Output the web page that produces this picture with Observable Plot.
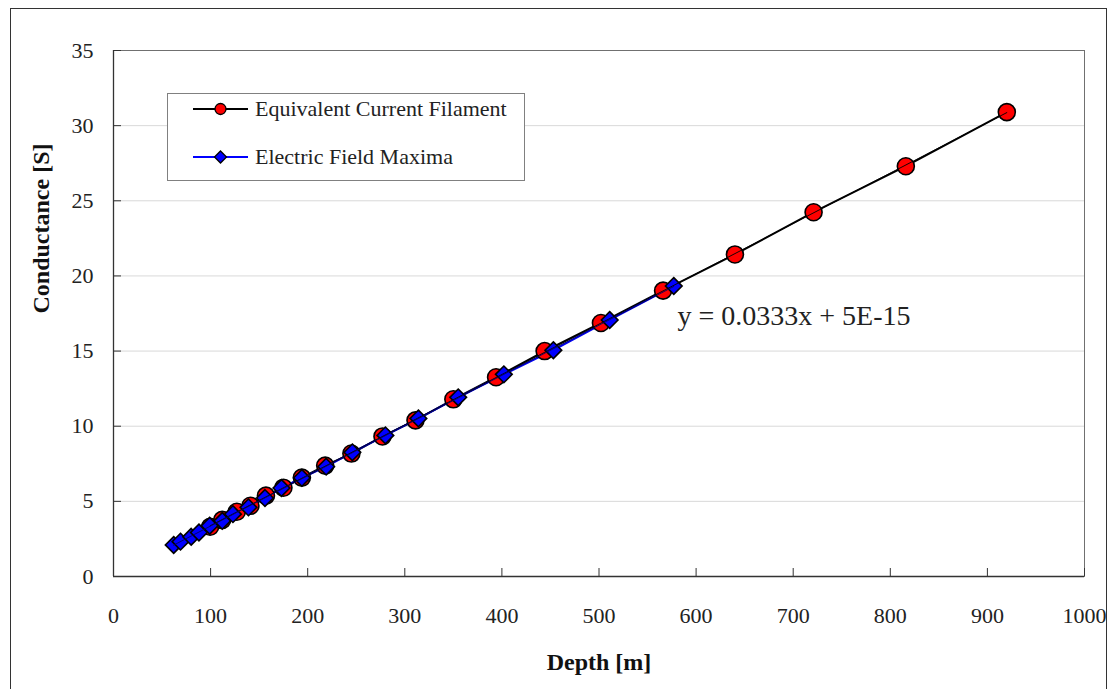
<!DOCTYPE html>
<html>
<head>
<meta charset="utf-8">
<script src="https://cdn.jsdelivr.net/npm/d3@7"></script>
<script src="https://cdn.jsdelivr.net/npm/@observablehq/plot@0.6"></script>
<style>
  html, body { margin: 0; padding: 0; background: white; }
  #wrap { position: relative; width: 1112px; height: 689px; overflow: hidden; font-family: "Liberation Serif", serif; }
  #chart { position: absolute; left: 0; top: 0; }
  #border { position: absolute; left: 10px; top: 8px; width: 1095px; height: 720px; border: 1px solid #333; pointer-events: none; }
  #legend { position: absolute; left: 167px; top: 93px; width: 356px; height: 86px; border: 1px solid #808080; background: white; }
  .row { position: absolute; left: 0; height: 30px; display: flex; align-items: center; }
  .row svg { margin-left: 25px; }
  .row span { margin-left: 7px; font-size: 22px; color: #222; white-space: nowrap; font-family: "Liberation Serif", serif; }
</style>
</head>
<body>
<div id="wrap">
  <div id="chart"></div>
  <div id="legend"></div>
  <div id="border"></div>
</div>
<script>
// ---- data ----
const seriesNames = ["Equivalent Current Filament", "Electric Field Maxima"];
const filamentDepth = [99.5, 112, 127, 141, 157, 175, 194, 218, 245, 277, 311, 350, 394, 444, 502, 566, 640, 721, 816, 920];
const filamentCond  = [3.31, 3.77, 4.31, 4.71, 5.38, 5.91, 6.58, 7.38, 8.18, 9.32, 10.39, 11.79, 13.26, 15.0, 16.87, 19.02, 21.43, 24.24, 27.3, 30.9];
const maximaDepth = [62, 69, 80, 88, 99, 112, 123, 139, 156, 173, 194, 219, 246, 280, 314, 355, 402, 453, 511, 577];
const maximaCond  = [2.10, 2.32, 2.64, 2.93, 3.38, 3.70, 4.15, 4.60, 5.22, 5.89, 6.56, 7.31, 8.26, 9.39, 10.52, 11.92, 13.45, 15.06, 17.07, 19.33];
const xTicks = [0, 100, 200, 300, 400, 500, 600, 700, 800, 900, 1000];
const yTicks = [0, 5, 10, 15, 20, 25, 30, 35];
const eqLabel = "y = 0.0333x + 5E-15";
const xTitle = "Depth [m]";
const yTitle = "Conductance [S]";

const filament = filamentDepth.map((x, i) => ({x, y: filamentCond[i]}));
const maxima = maximaDepth.map((x, i) => ({x, y: maximaCond[i]}));

const W = 1112, H = 689;
const mL = 113, mR = 28, mT = 50, mB = 113;
const fw = W - mL - mR, fh = H - mT - mB;

const plot = Plot.plot({
  width: W, height: H,
  marginLeft: mL, marginRight: mR, marginTop: mT, marginBottom: mB,
  style: {fontFamily: "Liberation Serif, serif", background: "transparent", color: "#222"},
  x: {domain: [0, 1000]},
  y: {domain: [0, 35]},
  marks: [
    Plot.gridY(yTicks, {stroke: "#d9d9d9", strokeOpacity: 1, strokeWidth: 1}),
    Plot.frame({stroke: "#707070"}),
    Plot.ruleX([0], {stroke: "#333", strokeWidth: 1.3}),
    Plot.ruleY([0], {stroke: "#333", strokeWidth: 1.3}),
    Plot.tickX(xTicks, {x: d => d, stroke: "#333", insetTop: fh - 8}),
    Plot.tickY(yTicks, {y: d => d, stroke: "#333", insetRight: fw - 8}),
    Plot.axisX({ticks: xTicks, tickFormat: d => String(d), tickSize: 0, tickPadding: 31, fontSize: 22, label: null}),
    Plot.axisY({ticks: yTicks, tickFormat: d => String(d), tickSize: 0, tickPadding: 20, fontSize: 22, label: null}),
    Plot.line(filament, {x: "x", y: "y", stroke: "black", strokeWidth: 2}),
    Plot.line(maxima, {x: "x", y: "y", stroke: "#0000ee", strokeWidth: 2}),
    Plot.dot(filament, {x: "x", y: "y", r: 8.5, fill: "#ff0000", stroke: "black", strokeWidth: 1.6}),
    Plot.dot(maxima, {x: "x", y: "y", r: 7.5, symbol: "diamond2", fill: "#0000ff", stroke: "black", strokeWidth: 1.6}),
    Plot.linearRegressionY(filament, {x: "x", y: "y", stroke: "black", strokeWidth: 0.9, ci: 0}),
    Plot.linearRegressionY(maxima, {x: "x", y: "y", stroke: "#000060", strokeWidth: 0.9, ci: 0}),
    Plot.text([eqLabel], {text: d => d, frameAnchor: "top-left", dx: 677 - mL, dy: 316 - mT, textAnchor: "start", lineAnchor: "middle", fontSize: 28, fill: "#222"}),
    Plot.text([yTitle], {text: d => d, frameAnchor: "left", dx: -72, rotate: -90, fontSize: 24, fontWeight: "bold", fill: "#111"}),
    Plot.text([xTitle], {text: d => d, frameAnchor: "bottom", dy: 86, lineAnchor: "middle", fontSize: 24, fontWeight: "bold", fill: "#111"})
  ]
});
document.getElementById("chart").appendChild(plot);

// legend
const legend = document.getElementById("legend");
const styles = [
  {line: "black", fill: "#ff0000", shape: "circle", top: 0},
  {line: "#0000ff", fill: "#0000ff", shape: "diamond", top: 48}
];
seriesNames.forEach((name, i) => {
  const s = styles[i];
  const row = document.createElement("div");
  row.className = "row";
  row.style.top = s.top + "px";
  const marker = s.shape === "circle"
    ? `<circle cx="27.5" cy="15" r="5.5" fill="${s.fill}" stroke="black" stroke-width="1.3"/>`
    : `<path d="M27.5,9L33.5,15L27.5,21L21.5,15Z" fill="${s.fill}" stroke="black" stroke-width="1.3"/>`;
  row.innerHTML = `<svg width="55" height="30"><line x1="0" x2="55" y1="15" y2="15" stroke="${s.line}" stroke-width="2"/>${marker}</svg><span>${name}</span>`;
  legend.appendChild(row);
});
</script>
</body>
</html>
